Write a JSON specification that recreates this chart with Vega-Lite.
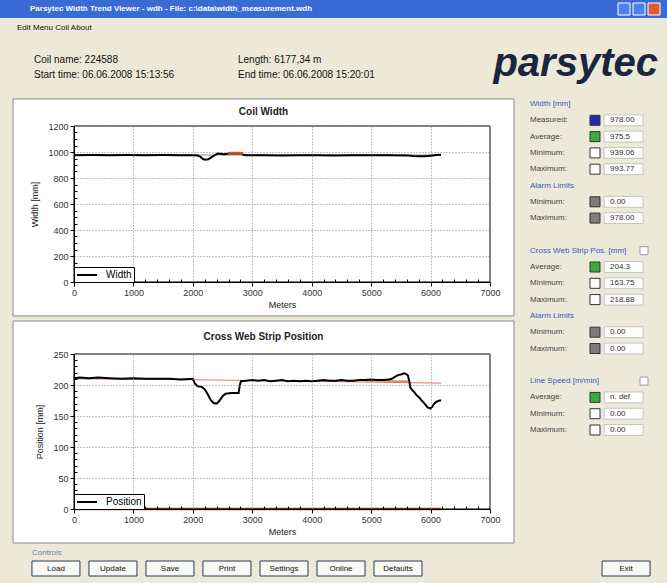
{
  "$schema": "https://vega.github.io/schema/vega-lite/v6.json",
  "background": "#ECE9D8",
  "padding": 0,
  "spacing": 0,
  "config": {
    "view": {"stroke": null},
    "font": "Liberation Sans",
    "concat": {"spacing": 0},
    "axis": {
      "labelFont": "Liberation Sans", "labelFontSize": 9, "labelColor": "#333",
      "titleFont": "Liberation Sans", "titleFontSize": 9, "titleFontWeight": "normal", "titleColor": "#222",
      "domainColor": "#000", "domainWidth": 1, "tickColor": "#000", "tickWidth": 1,
      "gridColor": "#8a8a8a", "gridDash": [1, 2]
    },
    "legend": {
      "orient": "bottom-left", "offset": 0, "padding": 2, "strokeColor": "#000", "fillColor": "white",
      "symbolType": "M-1,0H3", "symbolStrokeWidth": 2, "symbolSize": 100, "labelOffset": 18, "labelFont": "Liberation Sans",
      "labelFontSize": 10, "labelColor": "#000", "zindex": 2
    },
    "title": {"font": "Liberation Sans"}
  },
  "datasets": {
    "coilWidth": [
      {"m": 0, "mm": 975, "series": "Width"}, {"m": 300, "mm": 976, "series": "Width"}, {"m": 600, "mm": 975, "series": "Width"},
      {"m": 900, "mm": 976, "series": "Width"}, {"m": 1200, "mm": 975, "series": "Width"}, {"m": 1500, "mm": 976, "series": "Width"},
      {"m": 1800, "mm": 975, "series": "Width"}, {"m": 2000, "mm": 975, "series": "Width"}, {"m": 2080, "mm": 973, "series": "Width"},
      {"m": 2130, "mm": 962, "series": "Width"}, {"m": 2170, "mm": 946, "series": "Width"}, {"m": 2210, "mm": 940, "series": "Width"},
      {"m": 2260, "mm": 944, "series": "Width"}, {"m": 2310, "mm": 958, "series": "Width"}, {"m": 2360, "mm": 974, "series": "Width"},
      {"m": 2420, "mm": 988, "series": "Width"}, {"m": 2470, "mm": 986, "series": "Width"}, {"m": 2520, "mm": 982, "series": "Width"},
      {"m": 2590, "mm": 987, "series": "Width"}, {"m": 2700, "mm": 990, "series": "Width"}, {"m": 2800, "mm": 989, "series": "Width"},
      {"m": 2850, "mm": 978, "series": "Width"}, {"m": 2900, "mm": 975, "series": "Width"}, {"m": 3200, "mm": 975, "series": "Width"},
      {"m": 3500, "mm": 974, "series": "Width"}, {"m": 3800, "mm": 975, "series": "Width"}, {"m": 4100, "mm": 975, "series": "Width"},
      {"m": 4400, "mm": 974, "series": "Width"}, {"m": 4700, "mm": 975, "series": "Width"}, {"m": 5000, "mm": 975, "series": "Width"},
      {"m": 5300, "mm": 975, "series": "Width"}, {"m": 5600, "mm": 974, "series": "Width"}, {"m": 5700, "mm": 969, "series": "Width"},
      {"m": 5800, "mm": 967, "series": "Width"}, {"m": 5900, "mm": 968, "series": "Width"}, {"m": 6000, "mm": 972, "series": "Width"},
      {"m": 6100, "mm": 976, "series": "Width"}, {"m": 6177, "mm": 979, "series": "Width"}
    ],
    "widthAverage": [{"m": 0, "mm": 976}, {"m": 6177, "mm": 976}],
    "widthAlarm": [{"m": 2590, "mm": 988}, {"m": 2650, "mm": 991}, {"m": 2760, "mm": 991}, {"m": 2840, "mm": 988}],
    "position": [
      {"m": 0, "pos": 211, "series": "Position"}, {"m": 100, "pos": 212, "series": "Position"}, {"m": 250, "pos": 211, "series": "Position"},
      {"m": 400, "pos": 212, "series": "Position"}, {"m": 600, "pos": 211, "series": "Position"}, {"m": 800, "pos": 210, "series": "Position"},
      {"m": 1000, "pos": 211, "series": "Position"}, {"m": 1200, "pos": 210, "series": "Position"}, {"m": 1400, "pos": 210, "series": "Position"},
      {"m": 1600, "pos": 210, "series": "Position"}, {"m": 1800, "pos": 209, "series": "Position"}, {"m": 2000, "pos": 210, "series": "Position"},
      {"m": 2030, "pos": 203, "series": "Position"}, {"m": 2080, "pos": 198, "series": "Position"}, {"m": 2150, "pos": 197, "series": "Position"},
      {"m": 2200, "pos": 193, "series": "Position"}, {"m": 2250, "pos": 185, "series": "Position"}, {"m": 2300, "pos": 176, "series": "Position"},
      {"m": 2350, "pos": 171, "series": "Position"}, {"m": 2400, "pos": 170, "series": "Position"}, {"m": 2450, "pos": 175, "series": "Position"},
      {"m": 2500, "pos": 182, "series": "Position"}, {"m": 2550, "pos": 186, "series": "Position"}, {"m": 2650, "pos": 187, "series": "Position"},
      {"m": 2770, "pos": 187, "series": "Position"}, {"m": 2790, "pos": 200, "series": "Position"}, {"m": 2810, "pos": 206, "series": "Position"},
      {"m": 2900, "pos": 207, "series": "Position"}, {"m": 3000, "pos": 208, "series": "Position"}, {"m": 3100, "pos": 207, "series": "Position"},
      {"m": 3200, "pos": 208, "series": "Position"}, {"m": 3300, "pos": 206, "series": "Position"}, {"m": 3400, "pos": 207, "series": "Position"},
      {"m": 3500, "pos": 208, "series": "Position"}, {"m": 3600, "pos": 206, "series": "Position"}, {"m": 3700, "pos": 207, "series": "Position"},
      {"m": 3800, "pos": 206, "series": "Position"}, {"m": 3900, "pos": 207, "series": "Position"}, {"m": 4000, "pos": 206, "series": "Position"},
      {"m": 4100, "pos": 207, "series": "Position"}, {"m": 4200, "pos": 208, "series": "Position"}, {"m": 4300, "pos": 207, "series": "Position"},
      {"m": 4400, "pos": 207, "series": "Position"}, {"m": 4500, "pos": 208, "series": "Position"}, {"m": 4600, "pos": 207, "series": "Position"},
      {"m": 4700, "pos": 207, "series": "Position"}, {"m": 4800, "pos": 208, "series": "Position"}, {"m": 4900, "pos": 208, "series": "Position"},
      {"m": 5000, "pos": 209, "series": "Position"}, {"m": 5100, "pos": 208, "series": "Position"}, {"m": 5200, "pos": 208, "series": "Position"},
      {"m": 5300, "pos": 209, "series": "Position"}, {"m": 5350, "pos": 210, "series": "Position"}, {"m": 5400, "pos": 213, "series": "Position"},
      {"m": 5450, "pos": 216, "series": "Position"}, {"m": 5500, "pos": 217, "series": "Position"}, {"m": 5560, "pos": 219, "series": "Position"},
      {"m": 5600, "pos": 217, "series": "Position"}, {"m": 5620, "pos": 215, "series": "Position"}, {"m": 5640, "pos": 207, "series": "Position"},
      {"m": 5660, "pos": 196, "series": "Position"}, {"m": 5690, "pos": 192, "series": "Position"}, {"m": 5730, "pos": 188, "series": "Position"},
      {"m": 5770, "pos": 183, "series": "Position"}, {"m": 5810, "pos": 180, "series": "Position"}, {"m": 5850, "pos": 175, "series": "Position"},
      {"m": 5900, "pos": 170, "series": "Position"}, {"m": 5950, "pos": 164, "series": "Position"}, {"m": 6000, "pos": 162, "series": "Position"},
      {"m": 6030, "pos": 165, "series": "Position"}, {"m": 6060, "pos": 170, "series": "Position"}, {"m": 6100, "pos": 173, "series": "Position"},
      {"m": 6150, "pos": 175, "series": "Position"}, {"m": 6177, "pos": 175, "series": "Position"}
    ],
    "positionAverage": [{"m": 0, "pos": 210}, {"m": 2000, "pos": 208.5}, {"m": 4000, "pos": 206}, {"m": 6177, "pos": 203}],
    "positionHighlight": [{"m": 4900, "pos": 207}, {"m": 5620, "pos": 206}],
    "positionLimit": [{"m": 0, "pos": 0}, {"m": 6177, "pos": 0}],
    "sidePanel": [
      {"row": 0, "kind": "head", "label": "Width [mm]"},
      {"row": 1, "kind": "item", "label": "Measured:", "swatch": "measured", "value": "978.00"},
      {"row": 2, "kind": "item", "label": "Average:", "swatch": "average", "value": "975.5"},
      {"row": 3, "kind": "item", "label": "Minimum:", "swatch": "extreme", "value": "939.06"},
      {"row": 4, "kind": "item", "label": "Maximum:", "swatch": "extreme", "value": "993.77"},
      {"row": 5, "kind": "head", "label": "Alarm Limits"},
      {"row": 6, "kind": "item", "label": "Minimum:", "swatch": "alarm", "value": "0.00"},
      {"row": 7, "kind": "item", "label": "Maximum:", "swatch": "alarm", "value": "978.00"},
      {"row": 9, "kind": "headcheck", "label": "Cross Web Strip Pos. [mm]"},
      {"row": 10, "kind": "item", "label": "Average:", "swatch": "average", "value": "204.3"},
      {"row": 11, "kind": "item", "label": "Minimum:", "swatch": "extreme", "value": "163.75"},
      {"row": 12, "kind": "item", "label": "Maximum:", "swatch": "extreme", "value": "218.88"},
      {"row": 13, "kind": "head", "label": "Alarm Limits"},
      {"row": 14, "kind": "item", "label": "Minimum:", "swatch": "alarm", "value": "0.00"},
      {"row": 15, "kind": "item", "label": "Maximum:", "swatch": "alarm", "value": "0.00"},
      {"row": 17, "kind": "headcheck", "label": "Line Speed [m/min]"},
      {"row": 18, "kind": "item", "label": "Average:", "swatch": "average", "value": "n. def"},
      {"row": 19, "kind": "item", "label": "Minimum:", "swatch": "extreme", "value": "0.00"},
      {"row": 20, "kind": "item", "label": "Maximum:", "swatch": "extreme", "value": "0.00"}
    ],
    "buttons": [
      {"name": "Load"}, {"name": "Update"}, {"name": "Save"}, {"name": "Print"},
      {"name": "Settings"}, {"name": "Online"}, {"name": "Defaults"}, {"name": "Exit"}
    ]
  },
  "vconcat": [
    {
      "width": 667, "height": 18,
      "view": {"fill": "#3A6AD4"},
      "resolve": {"scale": {"x": "independent"}},
      "layer": [
        {
          "data": {"values": [{"part": "title", "text": "Parsytec Width Trend Viewer - wdh - File: c:\\data\\width_measurement.wdh"}]},
          "mark": {"type": "text", "align": "left", "baseline": "middle", "fontSize": 8, "fontWeight": "bold", "color": "white"},
          "encoding": {
            "x": {"field": "part", "type": "nominal", "scale": {"type": "point", "domain": ["title"], "range": [30, 30], "padding": 0}, "axis": null},
            "y": {"datum": "bar", "type": "nominal", "scale": {"type": "point", "padding": 0.5}, "axis": null},
            "text": {"field": "text"}
          }
        },
        {
          "data": {"values": [{"button": "minimize"}, {"button": "maximize"}, {"button": "close"}]},
          "mark": {"type": "point", "shape": "square", "filled": true, "size": 144, "stroke": "white", "strokeWidth": 1, "opacity": 1},
          "encoding": {
            "x": {"field": "button", "type": "nominal", "scale": {"type": "point", "domain": ["minimize", "maximize", "close"], "range": [624, 654], "padding": 0}, "axis": null},
            "y": {"datum": "bar", "type": "nominal", "scale": {"type": "point", "padding": 0.5}, "axis": null},
            "color": {"field": "button", "type": "nominal", "scale": {"domain": ["minimize", "maximize", "close"], "range": ["#4A82EC", "#4A82EC", "#E2572E"]}, "legend": null}
          }
        }
      ]
    },
    {
      "width": 667, "height": 80,
      "resolve": {"scale": {"x": "independent", "y": "independent"}},
      "layer": [
        {
          "data": {"values": [{"part": "menu", "text": "Edit Menu   Coil   About"}]},
          "mark": {"type": "text", "align": "left", "baseline": "middle", "fontSize": 8, "color": "#111"},
          "encoding": {
            "x": {"field": "part", "type": "nominal", "scale": {"type": "point", "domain": ["menu"], "range": [17, 17], "padding": 0}, "axis": null},
            "y": {"field": "part", "type": "nominal", "scale": {"type": "point", "domain": ["menu"], "range": [10, 10], "padding": 0}, "axis": null},
            "text": {"field": "text"}
          }
        },
        {
          "data": {"values": [
            {"col": "left", "line": "line1", "text": "Coil name: 224588"},
            {"col": "left", "line": "line2", "text": "Start time: 06.06.2008 15:13:56"},
            {"col": "mid", "line": "line1", "text": "Length: 6177,34 m"},
            {"col": "mid", "line": "line2", "text": "End time: 06.06.2008 15:20:01"}
          ]},
          "mark": {"type": "text", "align": "left", "baseline": "middle", "fontSize": 10, "color": "#111"},
          "encoding": {
            "x": {"field": "col", "type": "nominal", "scale": {"type": "point", "domain": ["left", "mid"], "range": [34, 238], "padding": 0}, "axis": null},
            "y": {"field": "line", "type": "nominal", "scale": {"type": "point", "domain": ["line1", "line2"], "range": [42, 57], "padding": 0}, "axis": null},
            "text": {"field": "text"}
          }
        },
        {
          "data": {"values": [{"part": "logo", "text": "parsytec"}]},
          "mark": {"type": "text", "align": "right", "baseline": "alphabetic", "fontSize": 40, "fontWeight": "bold", "fontStyle": "italic", "color": "#1C2540"},
          "encoding": {
            "x": {"field": "part", "type": "nominal", "scale": {"type": "point", "domain": ["logo"], "range": [658, 658], "padding": 0}, "axis": null},
            "y": {"field": "part", "type": "nominal", "scale": {"type": "point", "domain": ["logo"], "range": [58, 58], "padding": 0}, "axis": null},
            "text": {"field": "text"}
          }
        }
      ]
    },
    {
      "hconcat": [
        {
          "width": 12, "height": 20,
          "view": {"fill": "#ECE9D8"},
          "data": {"values": []},
          "mark": "text",
          "encoding": {}
        },
        {
          "vconcat": [
            {
              "width": 416, "height": 156,
              "title": {"text": "Coil Width", "frame": "bounds", "anchor": "middle", "fontSize": 10, "fontWeight": "bold", "offset": -19, "color": "#222"},
              "layer": [
                {
                  "data": {"values": [{}]},
                  "mark": {"type": "rect", "fill": "white", "stroke": "#8a8a8a", "strokeWidth": 1},
                  "encoding": {
                    "x": {"datum": -1026, "type": "quantitative", "scale": {"domain": [0, 7000]}},
                    "x2": {"datum": 7404},
                    "y": {"datum": -261, "type": "quantitative", "scale": {"domain": [0, 1200]}},
                    "y2": {"datum": 1408}
                  }
                },
                {
                  "data": {"name": "widthAverage"},
                  "mark": {"type": "line", "stroke": "#9CC09C", "strokeWidth": 1.5},
                  "encoding": {
                    "x": {"field": "m", "type": "quantitative", "title": "Meters", "scale": {"domain": [0, 7000]}},
                    "y": {"field": "mm", "type": "quantitative", "title": "Width [mm]", "scale": {"domain": [0, 1200]}}
                  }
                },
                {
                  "data": {"name": "coilWidth"},
                  "mark": {"type": "line", "strokeWidth": 2},
                  "encoding": {
                    "x": {"field": "m", "type": "quantitative", "title": "Meters", "scale": {"domain": [0, 7000]},
                      "axis": {"orient": "bottom", "zindex": 1, "format": "d", "titlePadding": 3, "labelPadding": 2, "grid": true,
                        "labelOverlap": false, "labelFlush": false, "tickCount": 100,
                        "values": [0,200,400,600,800,1000,1200,1400,1600,1800,2000,2200,2400,2600,2800,3000,3200,3400,3600,3800,4000,4200,4400,4600,4800,5000,5200,5400,5600,5800,6000,6200,6400,6600,6800,7000],
                        "labelExpr": "datum.value % 1000 === 0 ? datum.label : ''",
                        "tickSize": {"condition": {"test": "datum.value % 1000 === 0", "value": 4}, "value": -3},
                        "gridOpacity": {"condition": {"test": "datum.value % 1000 === 0", "value": 1}, "value": 0}}},
                    "y": {"field": "mm", "type": "quantitative", "title": "Width [mm]", "scale": {"domain": [0, 1200]},
                      "axis": {"orient": "left", "zindex": 1, "format": "d", "titlePadding": 8, "labelPadding": 2, "grid": true,
                        "labelOverlap": false, "labelFlush": false, "tickCount": 100,
                        "values": [0,50,100,150,200,250,300,350,400,450,500,550,600,650,700,750,800,850,900,950,1000,1050,1100,1150,1200],
                        "labelExpr": "datum.value % 200 === 0 ? datum.label : ''",
                        "tickSize": {"condition": {"test": "datum.value % 200 === 0", "value": 4}, "value": -3},
                        "gridOpacity": {"condition": {"test": "datum.value % 200 === 0", "value": 1}, "value": 0}}},
                    "color": {"field": "series", "type": "nominal", "scale": {"domain": ["Width"], "range": ["#000000"]}, "legend": {"title": null}}
                  }
                },
                {
                  "data": {"name": "widthAlarm"},
                  "mark": {"type": "line", "stroke": "#C8461E", "strokeWidth": 3},
                  "encoding": {
                    "x": {"field": "m", "type": "quantitative", "title": "Meters", "scale": {"domain": [0, 7000]}},
                    "y": {"field": "mm", "type": "quantitative", "title": "Width [mm]", "scale": {"domain": [0, 1200]}}
                  }
                },
                {
                  "data": {"values": [{}]},
                  "mark": {"type": "rect", "fill": null, "fillOpacity": 0, "stroke": "#000", "strokeWidth": 1},
                  "encoding": {
                    "x": {"datum": 0, "type": "quantitative", "scale": {"domain": [0, 7000]}},
                    "x2": {"datum": 7000},
                    "y": {"datum": 0, "type": "quantitative", "scale": {"domain": [0, 1200]}},
                    "y2": {"datum": 1200}
                  }
                }
              ]
            },
            {
              "width": 416, "height": 155,
              "title": {"text": "Cross Web Strip Position", "frame": "bounds", "anchor": "middle", "fontSize": 10, "fontWeight": "bold", "offset": -21, "color": "#222"},
              "layer": [
                {
                  "data": {"values": [{}]},
                  "mark": {"type": "rect", "fill": "white", "stroke": "#8a8a8a", "strokeWidth": 1},
                  "encoding": {
                    "x": {"datum": -1026, "type": "quantitative", "scale": {"domain": [0, 7000]}},
                    "x2": {"datum": 7404},
                    "y": {"datum": -54.8, "type": "quantitative", "scale": {"domain": [0, 250]}},
                    "y2": {"datum": 303.2}
                  }
                },
                {
                  "data": {"name": "positionLimit"},
                  "mark": {"type": "line", "stroke": "#D2552F", "strokeWidth": 2.5},
                  "encoding": {
                    "x": {"field": "m", "type": "quantitative", "title": "Meters", "scale": {"domain": [0, 7000]}},
                    "y": {"field": "pos", "type": "quantitative", "title": "Position [mm]", "scale": {"domain": [0, 250]}}
                  }
                },
                {
                  "data": {"name": "positionAverage"},
                  "mark": {"type": "line", "stroke": "#E77070", "strokeWidth": 1},
                  "encoding": {
                    "x": {"field": "m", "type": "quantitative", "title": "Meters", "scale": {"domain": [0, 7000]}},
                    "y": {"field": "pos", "type": "quantitative", "title": "Position [mm]", "scale": {"domain": [0, 250]}}
                  }
                },
                {
                  "data": {"name": "positionHighlight"},
                  "mark": {"type": "line", "stroke": "#D08A3C", "strokeWidth": 1.5},
                  "encoding": {
                    "x": {"field": "m", "type": "quantitative", "title": "Meters", "scale": {"domain": [0, 7000]}},
                    "y": {"field": "pos", "type": "quantitative", "title": "Position [mm]", "scale": {"domain": [0, 250]}}
                  }
                },
                {
                  "data": {"name": "position"},
                  "mark": {"type": "line", "strokeWidth": 2},
                  "encoding": {
                    "x": {"field": "m", "type": "quantitative", "title": "Meters", "scale": {"domain": [0, 7000]},
                      "axis": {"orient": "bottom", "zindex": 1, "format": "d", "titlePadding": 3, "labelPadding": 2, "grid": true,
                        "labelOverlap": false, "labelFlush": false, "tickCount": 100,
                        "values": [0,200,400,600,800,1000,1200,1400,1600,1800,2000,2200,2400,2600,2800,3000,3200,3400,3600,3800,4000,4200,4400,4600,4800,5000,5200,5400,5600,5800,6000,6200,6400,6600,6800,7000],
                        "labelExpr": "datum.value % 1000 === 0 ? datum.label : ''",
                        "tickSize": {"condition": {"test": "datum.value % 1000 === 0", "value": 4}, "value": -3},
                        "gridOpacity": {"condition": {"test": "datum.value % 1000 === 0", "value": 1}, "value": 0}}},
                    "y": {"field": "pos", "type": "quantitative", "title": "Position [mm]", "scale": {"domain": [0, 250]},
                      "axis": {"orient": "left", "zindex": 1, "format": "d", "titlePadding": 8, "labelPadding": 2, "grid": true,
                        "labelOverlap": false, "labelFlush": false, "tickCount": 100,
                        "values": [0,10,20,30,40,50,60,70,80,90,100,110,120,130,140,150,160,170,180,190,200,210,220,230,240,250],
                        "labelExpr": "datum.value % 50 === 0 ? datum.label : ''",
                        "tickSize": {"condition": {"test": "datum.value % 50 === 0", "value": 4}, "value": -3},
                        "gridOpacity": {"condition": {"test": "datum.value % 50 === 0", "value": 1}, "value": 0}}},
                    "color": {"field": "series", "type": "nominal", "scale": {"domain": ["Position"], "range": ["#000000"]}, "legend": {"title": null}}
                  }
                },
                {
                  "data": {"values": [{}]},
                  "mark": {"type": "rect", "fill": null, "fillOpacity": 0, "stroke": "#000", "strokeWidth": 1},
                  "encoding": {
                    "x": {"datum": 0, "type": "quantitative", "scale": {"domain": [0, 7000]}},
                    "x2": {"datum": 7000},
                    "y": {"datum": 0, "type": "quantitative", "scale": {"domain": [0, 250]}},
                    "y2": {"datum": 250}
                  }
                }
              ]
            }
          ],
          "spacing": 3,
          "resolve": {"scale": {"x": "independent", "y": "independent", "color": "independent"}, "legend": {"color": "independent"}}
        },
        {
          "width": 150, "height": 304,
          "data": {"name": "sidePanel"},
          "layer": [
            {
              "transform": [{"filter": "datum.kind !== 'item'"}],
              "mark": {"type": "text", "align": "left", "baseline": "middle", "fontSize": 8, "color": "#3A58C0"},
              "encoding": {
                "x": {"datum": "label", "type": "nominal", "bandPosition": 0, "scale": {"type": "band", "domain": ["label", "swatch", "value"], "paddingOuter": 0.375, "paddingInner": 0}, "axis": null},
                "y": {"field": "row", "type": "ordinal", "scale": {"type": "point", "domain": [0,1,2,3,4,5,6,7,8,9,10,11,12,13,14,15,16,17,18,19,20], "range": [-22, 304], "padding": 0}, "axis": null},
                "text": {"field": "label"}
              }
            },
            {
              "transform": [{"filter": "datum.kind === 'headcheck'"}],
              "mark": {"type": "point", "shape": "square", "filled": true, "fill": "white", "stroke": "#9a9a9a", "strokeWidth": 1, "size": 64, "opacity": 1},
              "encoding": {
                "x": {"datum": "value", "type": "nominal", "bandPosition": 0.85, "scale": {"type": "band", "domain": ["label", "swatch", "value"], "paddingOuter": 0.375, "paddingInner": 0}, "axis": null},
                "y": {"field": "row", "type": "ordinal", "axis": null}
              }
            },
            {
              "transform": [{"filter": "datum.kind === 'item'"}],
              "mark": {"type": "text", "align": "left", "baseline": "middle", "fontSize": 8, "color": "#444"},
              "encoding": {
                "x": {"datum": "label", "type": "nominal", "bandPosition": 0, "scale": {"type": "band", "domain": ["label", "swatch", "value"], "paddingOuter": 0.375, "paddingInner": 0}, "axis": null},
                "y": {"field": "row", "type": "ordinal", "axis": null},
                "text": {"field": "label"}
              }
            },
            {
              "transform": [{"filter": "datum.kind === 'item'"}],
              "mark": {"type": "point", "shape": "square", "filled": true, "stroke": "#333", "strokeWidth": 1, "size": 100, "opacity": 1},
              "encoding": {
                "x": {"datum": "swatch", "type": "nominal", "bandPosition": 0.625, "scale": {"type": "band", "domain": ["label", "swatch", "value"], "paddingOuter": 0.375, "paddingInner": 0}, "axis": null},
                "y": {"field": "row", "type": "ordinal", "axis": null},
                "fill": {"field": "swatch", "type": "nominal", "scale": {"domain": ["measured", "average", "extreme", "alarm"], "range": ["#2A2AA6", "#3DAA3D", "#FFFFFF", "#7C7C7C"]}, "legend": null}
              }
            },
            {
              "transform": [{"filter": "datum.kind === 'item'"}],
              "mark": {"type": "point", "shape": "M-1,-0.28H1V0.28H-1Z", "filled": true, "fill": "#FDFDFB", "stroke": "#C4C4C4", "strokeWidth": 1, "size": 1521, "opacity": 1},
              "encoding": {
                "x": {"datum": "value", "type": "nominal", "bandPosition": 0.34, "scale": {"type": "band", "domain": ["label", "swatch", "value"], "paddingOuter": 0.375, "paddingInner": 0}, "axis": null},
                "y": {"field": "row", "type": "ordinal", "axis": null}
              }
            },
            {
              "transform": [{"filter": "datum.kind === 'item'"}],
              "mark": {"type": "text", "align": "left", "baseline": "middle", "fontSize": 8, "color": "#333"},
              "encoding": {
                "x": {"datum": "value", "type": "nominal", "bandPosition": 0, "scale": {"type": "band", "domain": ["label", "swatch", "value"], "paddingOuter": 0.375, "paddingInner": 0}, "axis": null},
                "y": {"field": "row", "type": "ordinal", "axis": null},
                "text": {"field": "value"}
              }
            }
          ]
        }
      ],
      "spacing": 0,
      "resolve": {"scale": {"x": "independent", "y": "independent", "color": "independent", "fill": "independent"}}
    },
    {
      "width": 667, "height": 43,
      "layer": [
        {
          "data": {"values": [{"text": "Controls"}]},
          "mark": {"type": "text", "align": "left", "baseline": "middle", "fontSize": 8, "color": "#6A7FB0"},
          "encoding": {
            "x": {"datum": "Load", "type": "nominal", "bandPosition": 0, "scale": {"type": "band", "domain": ["Load", "Update", "Save", "Print", "Settings", "Online", "Defaults", "gap1", "gap2", "gap3", "Exit"], "range": [32, 650], "paddingInner": 0.16, "paddingOuter": 0}, "axis": null},
            "y": {"datum": "caption", "type": "nominal", "scale": {"type": "point", "domain": ["caption", "buttons"], "range": [9, 24.5], "padding": 0}, "axis": null},
            "text": {"field": "text"}
          }
        },
        {
          "data": {"name": "buttons"},
          "mark": {"type": "point", "shape": "M-1,-0.3125H1V0.3125H-1Z", "filled": true, "fill": "#F8F8F4", "stroke": "#2F3A55", "strokeWidth": 1, "size": 2304, "opacity": 1},
          "encoding": {
            "x": {"field": "name", "type": "nominal", "bandPosition": 0.5, "axis": null},
            "y": {"datum": "buttons", "type": "nominal", "axis": null}
          }
        },
        {
          "data": {"name": "buttons"},
          "mark": {"type": "text", "align": "center", "baseline": "middle", "fontSize": 8, "color": "#111"},
          "encoding": {
            "x": {"field": "name", "type": "nominal", "bandPosition": 0.5, "axis": null},
            "y": {"datum": "buttons", "type": "nominal", "axis": null},
            "text": {"field": "name"}
          }
        }
      ]
    }
  ]
}
